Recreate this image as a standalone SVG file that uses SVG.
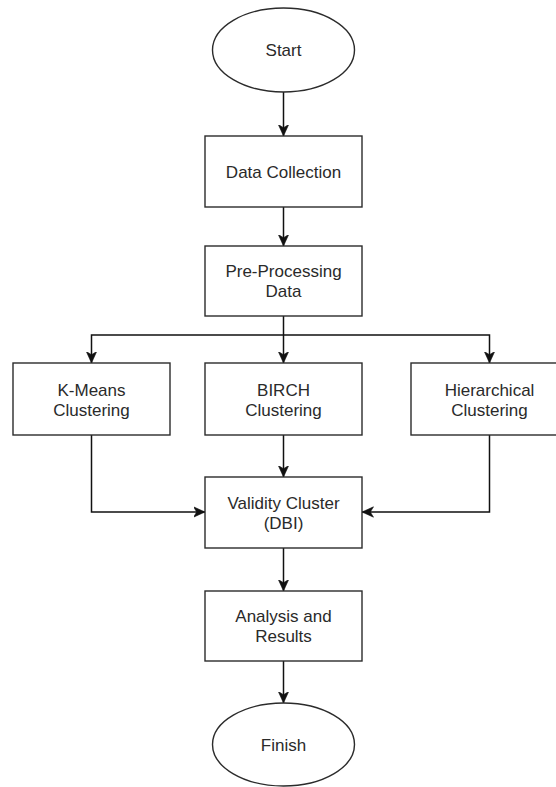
<svg xmlns="http://www.w3.org/2000/svg" width="556" height="787" viewBox="0 0 556 787">
<style>
.shape{fill:#ffffff;stroke:#2b2b2b;stroke-width:1.4}
.lbl{font-family:"Liberation Sans",Arial,sans-serif;font-size:17px;fill:#2a2a2a;text-anchor:middle}
.conn{fill:none;stroke:#111;stroke-width:1.5}
</style>
<defs>
<marker id="arr" markerUnits="userSpaceOnUse" markerWidth="12" markerHeight="12" viewBox="0 0 12 12" refX="11.5" refY="6" orient="auto">
<path d="M0,0.8 L11.5,6 L0,11.2 L3.2,6 Z" fill="#111" stroke="#111" stroke-width="0.6"/>
</marker>
</defs>
<rect width="556" height="787" fill="#ffffff"/>
<g id="connectors">
<path class="conn" d="M283.5,92 V136" marker-end="url(#arr)"/>
<path class="conn" d="M283.5,207 V246" marker-end="url(#arr)"/>
<path class="conn" d="M283.5,316 V363" marker-end="url(#arr)"/>
<path class="conn" d="M283.5,335 H91.5 V363" marker-end="url(#arr)"/>
<path class="conn" d="M283.5,335 H489.5 V363" marker-end="url(#arr)"/>
<path class="conn" d="M283.5,435 V477" marker-end="url(#arr)"/>
<path class="conn" d="M91.5,435 V512 H205" marker-end="url(#arr)"/>
<path class="conn" d="M489.5,435 V512 H362" marker-end="url(#arr)"/>
<path class="conn" d="M283.5,548 V591" marker-end="url(#arr)"/>
<path class="conn" d="M283.5,661 V703" marker-end="url(#arr)"/>
</g>
<g id="start">
<ellipse class="shape" cx="283.5" cy="50" rx="71" ry="42"/>
<text class="lbl" x="283.5" y="56">Start</text>
</g>
<g id="data-collection">
<rect class="shape" x="205" y="136" width="157" height="71"/>
<text class="lbl" x="283.5" y="177.5">Data Collection</text>
</g>
<g id="pre-processing">
<rect class="shape" x="205" y="246" width="157" height="70"/>
<text class="lbl" x="283.5" y="277">Pre-Processing</text>
<text class="lbl" x="283.5" y="297">Data</text>
</g>
<g id="kmeans">
<rect class="shape" x="13" y="363" width="157" height="72"/>
<text class="lbl" x="91.5" y="395.5">K-Means</text>
<text class="lbl" x="91.5" y="415.5">Clustering</text>
</g>
<g id="birch">
<rect class="shape" x="205" y="363" width="157" height="72"/>
<text class="lbl" x="283.5" y="395.5">BIRCH</text>
<text class="lbl" x="283.5" y="415.5">Clustering</text>
</g>
<g id="hierarchical">
<rect class="shape" x="411" y="363" width="157" height="72"/>
<text class="lbl" x="489.5" y="395.5">Hierarchical</text>
<text class="lbl" x="489.5" y="415.5">Clustering</text>
</g>
<g id="validity">
<rect class="shape" x="205" y="477" width="157" height="71"/>
<text class="lbl" x="283.5" y="508.5">Validity Cluster</text>
<text class="lbl" x="283.5" y="528.5">(DBI)</text>
</g>
<g id="analysis">
<rect class="shape" x="205" y="591" width="157" height="70"/>
<text class="lbl" x="283.5" y="622">Analysis and</text>
<text class="lbl" x="283.5" y="642">Results</text>
</g>
<g id="finish">
<ellipse class="shape" cx="283.5" cy="744.5" rx="71" ry="41.5"/>
<text class="lbl" x="283.5" y="751">Finish</text>
</g>
</svg>
